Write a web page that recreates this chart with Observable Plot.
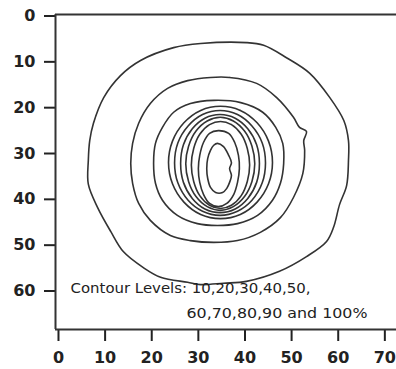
<!DOCTYPE html>
<html>
<head>
<meta charset="utf-8">
<script src="https://cdn.jsdelivr.net/npm/d3@7"></script>
<script src="https://cdn.jsdelivr.net/npm/@observablehq/plot@0.6"></script>
<style>
  html, body { margin: 0; padding: 0; background: #fff; }
  #chart { width: 396px; height: 369px; }
</style>
</head>
<body>
<div id="chart"></div>
<script>
// ---- data ----
const xDomain = [-0.64, 72.5];
const yDomain = [-0.33, 68.4];
const xTicks = [0, 10, 20, 30, 40, 50, 60, 70];
const yTicks = [0, 10, 20, 30, 40, 50, 60];
const levels = [10, 20, 30, 40, 50, 60, 70, 80, 90, 100];
const noteLine1 = "Contour Levels: 10,20,30,40,50,";
const noteLine2 = "60,70,80,90 and 100%";

const contour10 = [[30.5,6.0],[40.3,5.8],[44.0,6.4],[48.9,9.1],[53.9,12.5],[58.2,17.8],[61.2,22.8],[62.2,27.2],[62.2,31.5],[61.8,37.0],[60.3,41.1],[59.0,46.1],[57.5,49.2],[53.2,52.5],[47.4,55.7],[40.3,57.9],[35.4,58.3],[30.5,58.6],[27.7,58.1],[21.9,57.0],[18.2,54.9],[13.9,51.4],[11.2,47.0],[8.4,41.8],[6.4,36.7],[6.4,31.5],[6.7,27.2],[7.5,23.4],[9.7,17.8],[13.3,13.0],[17.6,9.7],[24.7,6.9]];
const contour20 = [[32.6,13.4],[36.7,13.4],[42.5,14.7],[46.8,17.8],[50.4,22.1],[51.7,24.3],[53.2,25.2],[52.6,27.2],[52.8,29.3],[52.4,34.4],[50.4,39.6],[47.6,44.0],[43.3,47.2],[38.4,49.0],[33.3,49.4],[28.3,49.0],[24.0,47.9],[19.7,44.6],[17.2,40.9],[15.9,36.5],[15.5,32.2],[15.9,27.8],[17.2,23.4],[19.7,19.1],[23.4,15.8],[27.7,14.1]];
const contour30 = [[33.3,18.4],[39.1,18.9],[43.8,21.0],[46.6,24.3],[48.1,27.8],[48.3,32.2],[47.6,36.5],[45.9,40.2],[42.7,43.5],[38.4,45.3],[34.1,45.7],[29.8,45.3],[25.5,43.5],[22.3,40.2],[20.8,36.5],[20.4,32.2],[20.8,27.8],[22.3,24.3],[24.7,21.0],[28.3,19.1]];
const contour40 = [[34.75,19.7],[39.0,20.6],[42.6,23.3],[45.05,27.3],[45.9,31.95],[45.05,36.6],[42.6,40.6],[39.0,43.3],[34.75,44.2],[30.5,43.3],[26.9,40.6],[24.45,36.6],[23.6,31.95],[24.45,27.3],[26.9,23.3],[30.5,20.6]];
const contour50 = [[34.65,20.6],[38.4,21.5],[41.5,24.0],[43.7,27.7],[44.4,32.05],[43.7,36.4],[41.5,40.2],[38.4,42.6],[34.65,43.5],[30.9,42.6],[27.8,40.2],[25.6,36.4],[24.9,32.05],[25.6,27.7],[27.8,24.0],[30.9,21.5]];
const contour60 = [[34.65,21.5],[37.9,22.3],[40.6,24.6],[42.5,28.1],[43.1,32.2],[42.5,36.3],[40.6,39.8],[37.9,42.1],[34.65,42.9],[31.4,42.1],[28.7,39.8],[26.8,36.3],[26.2,32.2],[26.8,28.1],[28.7,24.6],[31.4,22.3]];
const contour70 = [[34.7,22.1],[37.5,22.9],[39.9,25.1],[41.5,28.4],[42.1,32.25],[41.5,36.1],[39.9,39.4],[37.5,41.6],[34.7,42.4],[31.9,41.6],[29.5,39.4],[27.9,36.1],[27.3,32.25],[27.9,28.4],[29.5,25.1],[31.9,22.9]];
const contour80 = [[34.75,23.0],[37.1,23.7],[39.2,25.8],[40.5,28.9],[41.0,32.5],[40.5,36.1],[39.2,39.2],[37.1,41.3],[34.75,42.0],[32.4,41.3],[30.3,39.2],[29.0,36.1],[28.5,32.5],[29.0,28.9],[30.3,25.8],[32.4,23.7]];
const contour90 = [[34.3,25.0],[36.5,25.6],[37.8,27.6],[38.6,30.4],[38.8,33.3],[38.4,36.3],[37.6,38.9],[36.1,40.9],[34.3,41.6],[32.4,40.9],[31.1,38.9],[30.3,36.3],[30.0,33.3],[30.3,30.4],[31.1,27.6],[32.4,25.6]];
const contour100 = [[34.1,27.8],[35.4,28.5],[36.5,30.4],[37.1,32.0],[36.7,33.3],[37.1,34.8],[36.7,36.3],[36.1,37.6],[35.2,38.5],[33.7,38.5],[32.6,37.4],[32.0,35.4],[31.8,33.3],[32.0,31.1],[32.6,29.3],[33.3,28.2]];

const contours = [contour10, contour20, contour30, contour40, contour50, contour60, contour70, contour80, contour90, contour100];

const rows = [];
contours.forEach((pts, i) => pts.forEach(([x, y]) => rows.push({level: levels[i], x, y})));

const ink = "#333";
const noteFont = "DejaVu Sans Condensed, Liberation Sans Narrow, DejaVu Sans, sans-serif";

const chart = Plot.plot({
  width: 396,
  height: 369,
  marginLeft: 55,
  marginRight: 0,
  marginTop: 14,
  marginBottom: 40,
  style: {fontFamily: "DejaVu Sans, sans-serif", fontSize: "16px", color: "#222", background: "#fff"},
  x: {domain: xDomain, ticks: xTicks, tickSize: 12, tickPadding: 10, label: null},
  y: {domain: yDomain, reverse: true, ticks: yTicks, tickSize: 11, tickPadding: 9, label: null},
  marks: [
    Plot.line(rows, {x: "x", y: "y", z: "level", curve: "catmull-rom-closed", stroke: ink, strokeWidth: 1.6}),
    Plot.ruleY([yDomain[0]], {stroke: ink, strokeWidth: 2}),
    Plot.ruleY([yDomain[1]], {stroke: ink, strokeWidth: 2}),
    Plot.ruleX([xDomain[0]], {stroke: ink, strokeWidth: 2}),
    Plot.text([noteLine1], {text: d => d, frameAnchor: "bottom-left", dx: 15, dy: -37, textAnchor: "start",
      fontSize: 14, fontFamily: noteFont, fill: "#222", className: "note1"}),
    Plot.text([noteLine2], {text: d => d, frameAnchor: "bottom-right", dx: -29, dy: -12, textAnchor: "end",
      fontSize: 14, fontFamily: noteFont, fill: "#222", className: "note2"})
  ]
});

chart.querySelectorAll("g[aria-label*='axis'] line, g[aria-label*='axis'] path").forEach(el => el.setAttribute("stroke-width", "2"));
chart.querySelectorAll("g[aria-label*='axis'] text").forEach(el => el.setAttribute("font-weight", "bold"));
const fit = (cls, len) => chart.querySelectorAll("." + cls + " text").forEach(t => {
  t.setAttribute("textLength", len);
  t.setAttribute("lengthAdjust", "spacingAndGlyphs");
});
fit("note1", 240);
fit("note2", 181);
document.getElementById("chart").appendChild(chart);
</script>
</body>
</html>
